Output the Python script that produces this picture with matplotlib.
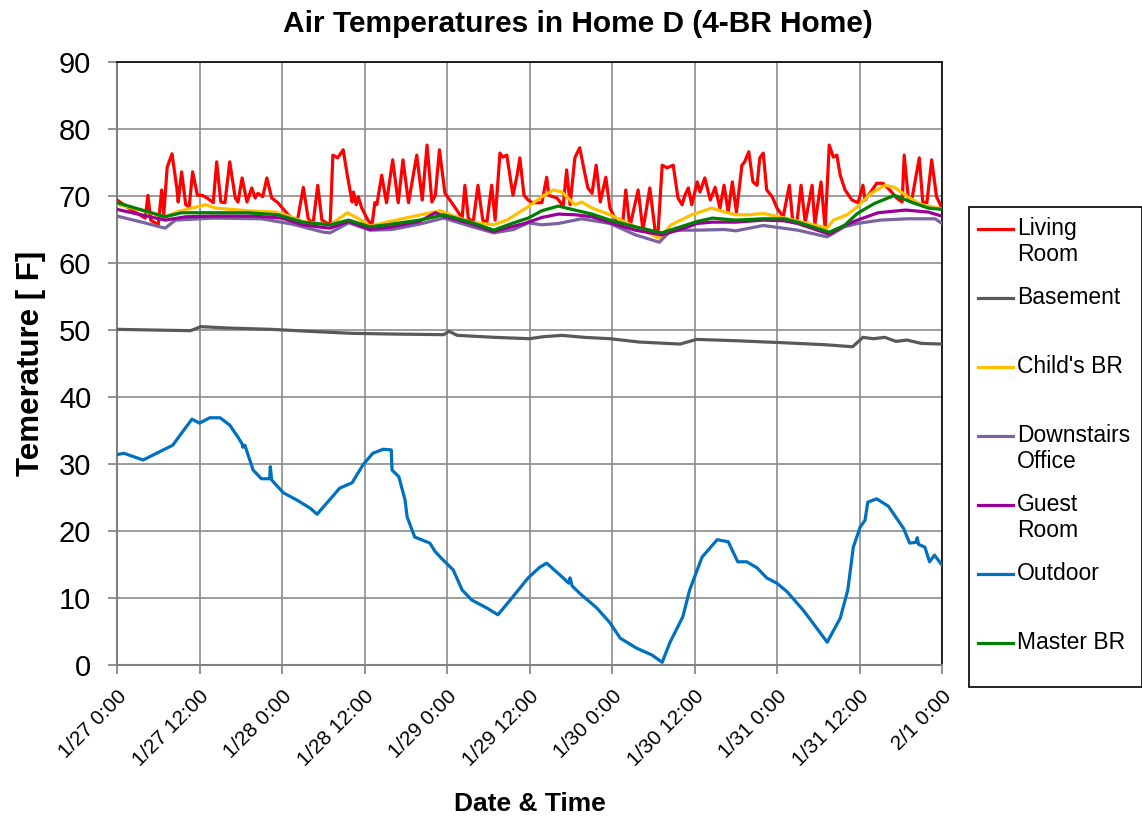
import matplotlib
matplotlib.use("Agg")
import matplotlib.pyplot as plt
from matplotlib.lines import Line2D
from matplotlib.patches import Rectangle

plt.rcParams['font.family'] = ['Liberation Sans', 'DejaVu Sans']

# ---------------- data (hours since 1/27 0:00, temperature F) ----------------
tick_hours = [0, 12, 24, 36, 48, 60, 72, 84, 96, 108, 120]
tick_labels = ["1/27 0:00", "1/27 12:00", "1/28 0:00", "1/28 12:00", "1/29 0:00",
               "1/29 12:00", "1/30 0:00", "1/30 12:00", "1/31 0:00", "1/31 12:00",
               "2/1 0:00"]

living_h = [0, 2, 4.1, 4.5, 4.9, 6, 6.5, 6.8, 7.3, 8.0, 8.7, 8.9, 9.4, 10, 10.5, 11, 11.7,
            12.4, 13.1, 14, 14.5, 15.1, 15.7, 16.4, 17.2, 17.6, 18.2, 18.9, 19.6, 20.1, 20.5,
            21.2, 21.8, 22.5, 23.4, 24.9, 26.2, 27.1, 27.8, 28.5, 29.2, 29.8, 31, 31.4, 32.1,
            32.9, 33.5, 34.2, 34.4, 34.8, 35.1, 35.6, 36.5, 37.1, 37.5, 37.8, 38.5, 39.2, 40.1,
            40.9, 41.6, 42.4, 43.6, 44.4, 45.1, 45.8, 46.3, 46.9, 47.7, 48.9, 50.2, 50.6, 51.1,
            51.8, 52.5, 53.2, 53.8, 54.5, 55, 55.7, 56.1, 56.7, 57.2, 57.6, 58.2, 58.6, 59.2,
            59.8, 60.4, 61.8, 62.5, 62.8, 64, 64.9, 65.4, 65.9, 66.6, 67.3, 68.1, 68.5, 69.1,
            69.7, 70.3, 71.1, 71.7, 72.7, 73.5, 74, 74.6, 75.8, 76.5, 77.5, 78.3, 78.7, 79.3,
            80, 80.9, 81.6, 82.2, 82.6, 83.1, 83.6, 84.4, 84.8, 85.5, 86.3, 87, 87.7, 88.3,
            88.9, 89.5, 90.1, 90.9, 91.3, 91.9, 92.5, 93.1, 93.5, 94, 94.5, 95.3, 96, 96.9,
            97.8, 98.3, 98.9, 99.5, 100.1, 101.1, 101.5, 102.4, 103, 103.6, 104.2, 104.7,
            105.2, 105.9, 106.9, 107.8, 108.5, 108.8, 109.5, 110.5, 111.4, 112.4, 113.4,
            114.2, 114.5, 115.1, 115.6, 116.7, 117.2, 117.8, 118.5, 119.2, 120]
living_t = [69.4, 68.0, 66.7, 70.1, 66.4, 65.7, 70.9, 67.2, 74.3, 76.3, 71.2, 69.1, 73.6, 68.7,
            68.4, 73.6, 70.1, 70.1, 69.7, 69.0, 75.1, 69.1, 69.0, 75.1, 69.7, 69.1, 72.7, 69.1,
            71.2, 69.7, 70.4, 69.9, 72.7, 69.7, 69.0, 67.2, 66.1, 71.3, 66.7, 65.7, 71.6, 66.4,
            65.7, 76.1, 75.7, 76.9, 73.1, 69.1, 70.6, 68.7, 69.9, 68.2, 66.4, 65.7, 69.0, 68.7,
            73.1, 69.0, 75.4, 69.0, 75.4, 69.0, 76.1, 69.4, 77.6, 69.1, 70.1, 76.9, 70.4, 68.7,
            66.7, 71.6, 66.7, 66.0, 71.6, 66.4, 66.1, 71.6, 66.4, 76.4, 75.8, 76.1, 72.7, 70.1,
            73.1, 75.7, 70.1, 69.4, 69.0, 69.0, 72.8, 70.1, 69.7, 68.5, 73.9, 68.7, 75.7, 77.2,
            73.1, 71.2, 70.4, 74.6, 69.1, 72.8, 68.2, 66.1, 65.2, 70.9, 65.4, 70.9, 64.9, 71.2,
            64.6, 64.6, 74.6, 74.2, 74.6, 69.7, 68.7, 70.1, 71.2, 68.7, 72.1, 70.6, 72.7, 69.4,
            71.3, 68.2, 71.6, 67.6, 72.1, 67.6, 74.6, 75.1, 76.6, 72.1, 71.6, 75.7, 76.4, 70.9,
            69.9, 68.2, 66.9, 71.6, 66.1, 66.1, 71.6, 66.0, 71.6, 65.7, 72.1, 65.2, 77.6, 75.8,
            76.1, 73.1, 70.9, 69.4, 69.0, 71.6, 69.4, 70.4, 71.9, 71.9, 70.9, 69.7, 69.1, 76.1,
            69.7, 69.4, 75.7, 69.1, 69.0, 75.4, 69.9, 68.2]

basement_h = [0, 5, 10.7, 12.2, 16, 22.4, 28, 34.2, 40, 47.5, 48.3, 49.5, 55, 60, 62, 64.7,
              68, 71.7, 76, 81.9, 84.3, 90, 96.9, 103, 107, 108.5, 110, 111.7, 113.3, 114.9,
              117, 120]
basement_t = [50.1, 50.0, 49.9, 50.5, 50.3, 50.1, 49.8, 49.5, 49.4, 49.3, 49.8, 49.2, 48.9,
              48.7, 49.0, 49.2, 48.9, 48.7, 48.2, 47.9, 48.6, 48.4, 48.1, 47.8, 47.5, 48.9,
              48.7, 48.9, 48.3, 48.5, 48.0, 47.9]

child_h = [0, 7, 8.9, 12.9, 14.3, 19, 23, 25, 27, 30, 31, 33.5, 35, 36.8, 39.2, 45.6, 47,
           51.4, 54.8, 56.7, 59.8, 61.8, 63.5, 64.7, 66.6, 67.6, 69.1, 71.7, 75.4, 78.9, 80.6,
           83.6, 86.5, 88.4, 90, 92, 94, 97.2, 103.3, 104.2, 106.2, 107.7, 109.7, 111.7,
           113.1, 115, 117, 119.4, 120]
child_t = [68.8, 66.9, 67.7, 68.7, 68.2, 67.8, 67.6, 67.0, 66.2, 65.8, 65.7, 67.5, 66.7, 65.5,
           66.1, 67.5, 67.8, 66.1, 65.7, 66.4, 68.4, 69.9, 70.9, 70.6, 68.7, 69.1, 68.2, 67.2,
           65.4, 63.7, 65.7, 67.2, 68.2, 67.6, 67.2, 67.2, 67.4, 66.7, 65.2, 66.4, 67.2, 68.4,
           70.4, 71.6, 71.3, 69.9, 68.7, 68.2, 68.0]

office_h = [0, 4, 7, 8.5, 14, 21, 25.5, 30, 31, 33.7, 36.8, 40, 44, 47.5, 51.4, 54.8, 57.7,
            59.8, 61.8, 64.2, 67.6, 71.7, 75.4, 78.9, 80.6, 84.4, 88.4, 90, 94, 99, 103.3,
            105.8, 107.7, 111, 115, 119, 120]
office_t = [67.0, 66.0, 65.2, 66.4, 66.7, 66.6, 65.8, 64.6, 64.5, 66.0, 64.9, 65.0, 65.8,
            66.7, 65.5, 64.5, 65.0, 66.0, 65.7, 65.9, 66.6, 65.9, 64.2, 63.1, 64.9, 64.9, 65.0,
            64.8, 65.6, 64.9, 63.9, 65.4, 65.9, 66.4, 66.6, 66.6, 65.9]

guest_h = [0, 7, 10, 14, 20, 24, 27, 30, 31, 33.7, 36.8, 40, 44, 46.3, 47.5, 51.4, 54.8,
           57.7, 59.3, 61.8, 64.2, 66.6, 69.1, 71.7, 75.4, 79.2, 82, 84.4, 86.6, 90, 94, 97,
           99, 103.6, 105.8, 107.7, 110.7, 114.7, 118, 120]
guest_t = [68.0, 66.4, 66.9, 67.0, 67.0, 66.7, 65.7, 65.3, 65.2, 66.2, 65.0, 65.4, 66.2,
           67.5, 67.0, 65.9, 64.7, 65.5, 65.9, 66.8, 67.3, 67.2, 66.9, 66.0, 64.9, 64.2, 65.0,
           65.9, 66.1, 66.1, 66.4, 66.3, 65.9, 64.3, 65.6, 66.4, 67.5, 67.9, 67.6, 67.0]

outdoor_h = [0, 1, 3.8, 8.1, 10.9, 12, 13.5, 15, 16.4, 17.6, 18.2, 18.3, 18.6, 19.8, 21,
             22.2, 22.3, 22.5, 24.2, 26.2, 28.1, 29.1, 32.4, 34.2, 35.8, 37.2, 38.7, 39.9, 40,
             41, 41.9, 42.2, 43.3, 45.5, 46.3, 47.4, 48.9, 50.2, 51.6, 53.8, 55.4, 57.2, 59.8,
             61.5, 62.5, 64.9, 65.7, 65.9, 66.2, 67.3, 69.8, 71.7, 73.2, 75.6, 77.8, 79.3,
             80.4, 82.3, 83.3, 85.1, 87.3, 88.9, 90.3, 91.6, 93.1, 94.5, 96, 97.5, 99.8, 101.2,
             103.3, 105.2, 106.3, 107.1, 108.1, 108.8, 109.2, 110.5, 112.2, 114.4, 115.3,
             116.2, 116.4, 116.6, 117.5, 118.2, 118.9, 119.5, 120]
outdoor_t = [31.4, 31.6, 30.6, 32.8, 36.7, 36.1, 36.9, 36.9, 35.8, 34.0, 33.0, 32.5, 32.8,
             29.1, 27.8, 27.8, 29.6, 27.6, 25.7, 24.6, 23.4, 22.5, 26.4, 27.2, 29.9, 31.6,
             32.2, 32.1, 29.1, 28.1, 24.6, 22.1, 19.1, 18.2, 16.9, 15.7, 14.2, 11.2, 9.7, 8.5,
             7.5, 9.7, 13.0, 14.6, 15.2, 13.0, 12.2, 13.0, 11.8, 10.7, 8.5, 6.3, 4.0, 2.5, 1.5,
             0.4, 3.3, 7.2, 11.2, 16.1, 18.7, 18.4, 15.4, 15.4, 14.5, 13.0, 12.2, 10.9, 8.2,
             6.3, 3.4, 7.0, 11.2, 17.6, 20.6, 21.6, 24.3, 24.8, 23.7, 20.4, 18.2, 18.3, 19.0,
             18.0, 17.6, 15.4, 16.4, 15.6, 14.9]

master_h = [0, 7, 9.4, 14.3, 19, 23.4, 27, 30, 31, 33.7, 36.8, 39.2, 44, 46.3, 47.5, 51.4,
            54.8, 57.7, 59.8, 61.8, 64.2, 66.6, 69.1, 71.7, 75.4, 79.2, 82, 84.4, 86.6, 90,
            94, 97, 99, 103.6, 105.8, 107.7, 110.2, 113.1, 115.5, 118, 120]
master_t = [69.0, 66.9, 67.5, 67.5, 67.5, 67.2, 66.1, 65.8, 65.7, 66.4, 65.4, 65.7, 66.4,
            66.9, 67.2, 66.1, 64.9, 66.0, 66.7, 67.8, 68.5, 67.9, 67.3, 66.4, 65.4, 64.5, 65.4,
            66.2, 66.7, 66.4, 66.6, 66.6, 66.1, 64.6, 65.6, 67.4, 68.9, 70.1, 69.1, 68.2, 68.0]

series_names = ["Living\nRoom", "Basement", "Child's BR", "Downstairs\nOffice",
                "Guest\nRoom", "Outdoor", "Master BR"]
series_colors = ["#FF0000", "#595959", "#FFC000", "#7B62A0", "#9A0099", "#0070C0", "#008000"]
series_data = [(living_h, living_t), (basement_h, basement_t), (child_h, child_t),
               (office_h, office_t), (guest_h, guest_t), (outdoor_h, outdoor_t),
               (master_h, master_t)]

# ---------------- figure ----------------
W, H = 1142, 819
fig = plt.figure(figsize=(11.42, 8.19), dpi=100)
ax = fig.add_axes([117 / W, 1 - 665 / H, (942 - 117) / W, (665 - 62) / H])

for (h, t), c in zip(series_data, series_colors):
    ax.plot(h, t, color=c, lw=2.3, solid_joinstyle='round', zorder=3)

ax.set_xlim(0, 120)
ax.set_ylim(0, 90)
ax.set_xticks(tick_hours)
ax.set_xticklabels(tick_labels, rotation=45, ha='right', rotation_mode='anchor', fontsize=15)
ax.set_yticks(range(0, 91, 10))
ax.tick_params(axis='y', labelsize=21, length=6.5, color='#808080', width=1.2, pad=12)
ax.tick_params(axis='x', length=6.5, color='#808080', width=1.2, pad=9)
ax.grid(True, color='#8C8C8C', lw=1.2, zorder=0)
ax.set_axisbelow(True)
for s in ['left', 'bottom']:
    ax.spines[s].set_color('#808080')
    ax.spines[s].set_linewidth(1.5)
for s in ['top', 'right']:
    ax.spines[s].set_color('black')
    ax.spines[s].set_linewidth(1.2)

fig.text(578 / W, 1 - 24 / H, "Air Temperatures in Home D (4-BR Home)", fontsize=21.5,
         fontweight='bold', ha='center', va='center')
ax.set_ylabel("Temerature [ F]", fontsize=22.5, fontweight='bold', labelpad=9)
ax.set_xlabel("Date & Time", fontsize=19, fontweight='bold', labelpad=16)

# ---------------- legend (manual, Excel style) ----------------
fig.patches.append(Rectangle((969 / W, 1 - 687 / H), (1142 - 969) / W, (687 - 207) / H,
                             transform=fig.transFigure, facecolor='white',
                             edgecolor='black', lw=1.2, zorder=5))
for i, (name, c) in enumerate(zip(series_names, series_colors)):
    ypix = 229 + 69 * i
    yf = 1 - ypix / H
    fig.add_artist(Line2D([978 / W, 1013 / W], [yf, yf], color=c, lw=2.3,
                          transform=fig.transFigure, zorder=6))
    fig.text(1017 / W, 1 - (ypix - 12) / H, name, fontsize=16.5, va='top', ha='left',
             linespacing=1.15, zorder=6)

fig.savefig("out.png", dpi=100)
